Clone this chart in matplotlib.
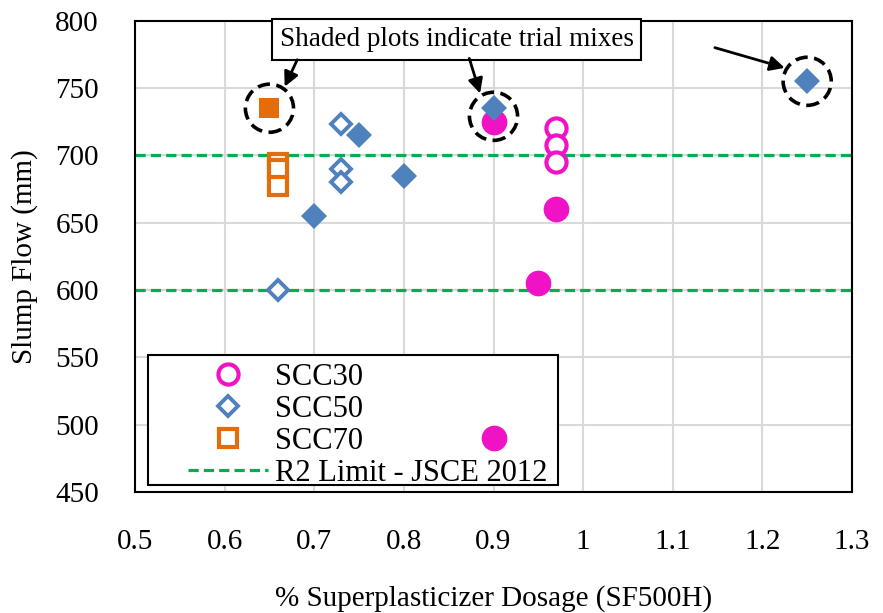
import numpy as np
import matplotlib.pyplot as plt
from matplotlib.patches import Rectangle

plt.rcParams['font.family'] = ['Liberation Serif', 'DejaVu Serif']

# SCC30 mixes (hollow = final, filled = trial)
scc30_x = [0.97, 0.97, 0.97]
scc30_y = [720, 708, 695]
scc30_trial_x = [0.90, 0.97, 0.95, 0.90]
scc30_trial_y = [725, 660, 605, 490]

# SCC50 mixes
scc50_x = [0.73, 0.73, 0.73, 0.66]
scc50_y = [723, 690, 680, 600]
scc50_trial_x = [0.75, 0.80, 0.70, 0.90, 1.25]
scc50_trial_y = [715, 685, 655, 735, 755]

# SCC70 mixes
scc70_x = [0.66, 0.66, 0.66]
scc70_y = [694, 690, 677]
scc70_trial_x = [0.65]
scc70_trial_y = [735]

# JSCE 2012 rank R2 slump flow limits
r2_limits = [600, 700]

# trial mixes singled out with dashed rings
ring_x = [0.65, 0.90, 1.25]
ring_y = [735, 729, 755]

pink = '#F013C6'
blue = '#4F81BD'
orange = '#E46C0A'
green = '#00B050'

fig = plt.figure(figsize=(8.83, 6.13), dpi=100)
ax = fig.add_axes([0.1529, 0.1974, 0.812, 0.7688])

ax.set_xlim(0.5, 1.3)
ax.set_ylim(450, 800)
ax.set_xticks(np.arange(0.5, 1.31, 0.1))
ax.set_xticklabels(['0.5', '0.6', '0.7', '0.8', '0.9', '1', '1.1', '1.2', '1.3'])
ax.set_yticks(np.arange(450, 801, 50))
ax.grid(True, color='#d9d9d9', lw=1.5)
ax.set_axisbelow(True)
for s in ax.spines.values():
    s.set_linewidth(1.5)
ax.tick_params(axis='x', length=0, pad=27, labelsize=21)
ax.tick_params(axis='y', length=0, pad=26, labelsize=21)

for y in r2_limits:
    ax.axhline(y, color=green, lw=2.3, dashes=[3.2, 1.6], zorder=2)

ax.plot(scc30_x, scc30_y, 'o', ms=14.5, mfc='white', mec=pink, mew=3, ls='none', label='SCC30', zorder=3)
ax.plot(scc30_trial_x, scc30_trial_y, 'o', ms=18.5, mfc=pink, mec=pink, mew=0, ls='none', zorder=3)
ax.plot(scc50_x, scc50_y, 'D', ms=10.5, mfc='white', mec=blue, mew=2.8, ls='none', label='SCC50', zorder=4)
ax.plot(scc50_trial_x, scc50_trial_y, 'D', ms=13, mfc=blue, mec=blue, mew=0, ls='none', zorder=4)
ax.plot(scc70_x, scc70_y, 's', ms=13, mfc='white', mec=orange, mew=3, ls='none', label='SCC70', zorder=3)
ax.plot(scc70_trial_x, scc70_trial_y, 's', ms=15, mfc=orange, mec=orange, mew=0, ls='none', zorder=3)

ax.scatter(ring_x, ring_y, s=1200, facecolors='none', edgecolors='black',
           linewidths=2.6, linestyles=(0, (3.4, 1.8)), zorder=5)

ax.plot([], [], color=green, lw=2.3, dashes=[3.2, 1.6], label='R2 Limit - JSCE 2012')

# legend sits under the data points, with its own frame
frame = Rectangle((0.0181, 0.0149), 0.572, 0.276, transform=ax.transAxes,
                  fc='white', ec='black', lw=1.5, zorder=2.5)
ax.add_patch(frame)
leg = ax.legend(loc='upper left', bbox_to_anchor=(0.074, 0.274), borderaxespad=0,
                fontsize=22, frameon=False, labelspacing=0.1, handlelength=2.6,
                handletextpad=0.25, borderpad=0)
leg.set_zorder(2.6)

# callout box with arrows to the trial mixes
ax.text(0.859, 786, 'Shaded plots indicate trial mixes', fontsize=19.5,
        ha='center', va='center', zorder=6,
        bbox=dict(boxstyle='square,pad=0.28', fc='white', ec='black', lw=1.5))
arrows = [((0.681, 771), (0.667, 751)),
          ((0.873, 772), (0.885, 746)),
          ((1.147, 780), (1.225, 765))]
for start, tip in arrows:
    ax.annotate('', xy=tip, xytext=start, zorder=6,
                arrowprops=dict(arrowstyle='-|>', color='black', lw=2,
                                mutation_scale=22, shrinkA=0, shrinkB=0))

ax.set_xlabel('% Superplasticizer Dosage (SF500H)', fontsize=21, labelpad=21)
ax.set_ylabel('Slump Flow (mm)', fontsize=21, labelpad=12)

fig.savefig('out.png', dpi=100)
